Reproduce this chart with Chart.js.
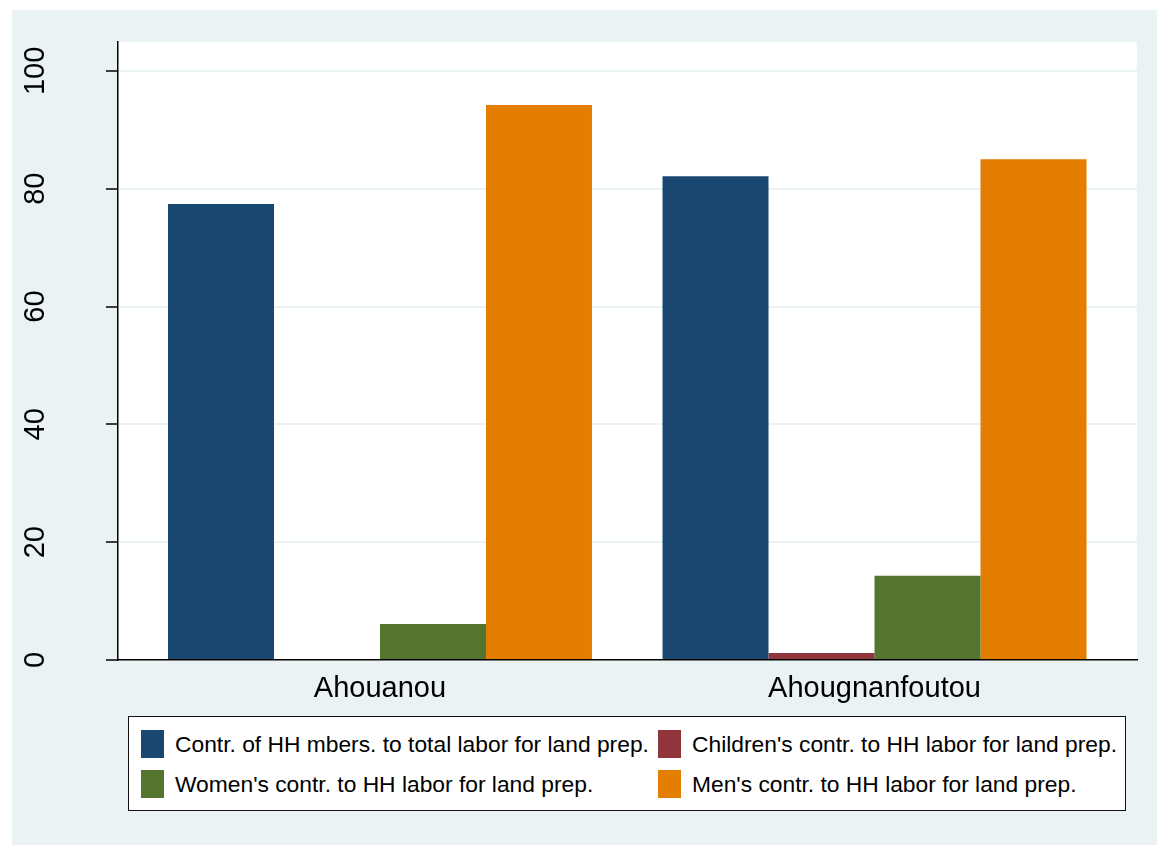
<!DOCTYPE html>
<html>
<head>
<meta charset="utf-8">
<script src="https://cdn.jsdelivr.net/npm/chart.js@4"></script>
<style>
  html, body { margin: 0; padding: 0; background: #fff; }
  body { width: 1157px; height: 845px; position: relative; overflow: hidden; font-family: "Liberation Sans", Arial, sans-serif; }
  #wrap { position: absolute; left: 12px; top: 10px; width: 1145px; height: 835px; background: #EAF2F3; }
  #legend { position: absolute; left: 128px; top: 716px; width: 998px; height: 95px; box-sizing: border-box;
            border: 1.5px solid #111; background: #fff; }
  .item { position: absolute; height: 28px; display: flex; align-items: center; font-size: 22.8px; color: #000; white-space: nowrap; }
  .sw { width: 23px; height: 28px; margin-right: 11px; flex: none; }
</style>
</head>
<body>
<div id="wrap"><canvas id="chart"></canvas></div>
<div id="legend"></div>
<script>
// categories and series
const groups = ["Ahouanou", "Ahougnanfoutou"];
const seriesNames = [
    "Contr. of HH mbers. to total labor for land prep.",
    "Children's contr. to HH labor for land prep.",
    "Women's contr. to HH labor for land prep.",
    "Men's contr. to HH labor for land prep."
];
const totalHH = [77.4, 82.1];
const children = [0, 1.2];
const women = [6.1, 14.3];
const men = [94.2, 85.0];
const yTicks = [0, 20, 40, 60, 80, 100];

const colors = ["#1A476F", "#90353B", "#55752F", "#E37E00"];
const allSeries = [totalHH, children, women, men];

// white plot region, like stata's plotregion
const plotBg = {
    id: "plotBg",
    beforeDraw(chart) {
        const a = chart.chartArea;
        const c = chart.ctx;
        c.save();
        c.fillStyle = "#fff";
        c.fillRect(a.left, a.top, a.right - a.left, a.bottom - a.top);
        c.restore();
    }
};

const ctx = document.getElementById("chart").getContext("2d");
const chart = new Chart(ctx, {
    type: "bar",
    data: {
        datasets: allSeries.map((vals, k) => ({
            label: seriesNames[k],
            data: vals.map((v, i) => ({ x: i, y: v })),
            backgroundColor: colors[k],
            borderWidth: 0,
            categoryPercentage: 0.8574,
            barPercentage: 1
        }))
    },
    options: {
        responsive: true,
        maintainAspectRatio: false,
        animation: false,
        devicePixelRatio: 1,
        layout: { padding: { top: 32, right: 20, left: 0, bottom: 0 } },
        plugins: {
            legend: { display: false },
            tooltip: { enabled: false }
        },
        scales: {
            x: {
                type: "linear",
                offset: false,
                min: -0.5298,
                max: 1.5308,
                afterBuildTicks: s => { s.ticks = groups.map((g, i) => ({ value: i })); },
                afterFit: s => { s.height = 185; s.paddingLeft = 0; s.paddingRight = 0; },
                grid: { display: false, drawTicks: false, offset: false },
                border: { display: true, color: "#000", width: 1.5, z: 1 },
                ticks: {
                    autoSkip: false,
                    maxRotation: 0,
                    padding: 12,
                    color: "#000",
                    font: { family: "'Liberation Sans', Arial, sans-serif", size: 29 },
                    callback: v => groups[v]
                }
            },
            y: {
                min: 0,
                max: 104.9,
                afterBuildTicks: s => { s.ticks = yTicks.map(v => ({ value: v })); },
                afterFit: s => { s.width = 106; s.paddingTop = 0; s.paddingBottom = 0; },
                grid: {
                    color: c => (c.tick && c.tick.value === 0) ? "rgba(0,0,0,0)" : "#EAF2F3",
                    lineWidth: 2,
                    tickColor: "#000",
                    tickLength: 12,
                    tickWidth: 1.5
                },
                border: { display: true, color: "#000", width: 1.5, z: 1 },
                ticks: {
                    includeBounds: false,
                    minRotation: 90,
                    maxRotation: 90,
                    crossAlign: "center",
                    padding: 46,
                    color: "#000",
                    font: { family: "'Liberation Sans', Arial, sans-serif", size: 29 }
                }
            }
        }
    },
    plugins: [plotBg]
});

// legend in two columns, built from the datasets
const legendEl = document.getElementById("legend");
const colX = [12, 529];
const rowY = [13, 53];
chart.data.datasets.forEach((ds, k) => {
    const item = document.createElement("div");
    item.className = "item";
    item.style.left = colX[k % 2] + "px";
    item.style.top = rowY[Math.floor(k / 2)] + "px";
    const sw = document.createElement("span");
    sw.className = "sw";
    sw.style.background = ds.backgroundColor;
    const txt = document.createElement("span");
    txt.textContent = ds.label;
    item.appendChild(sw);
    item.appendChild(txt);
    legendEl.appendChild(item);
});
</script>
</body>
</html>
